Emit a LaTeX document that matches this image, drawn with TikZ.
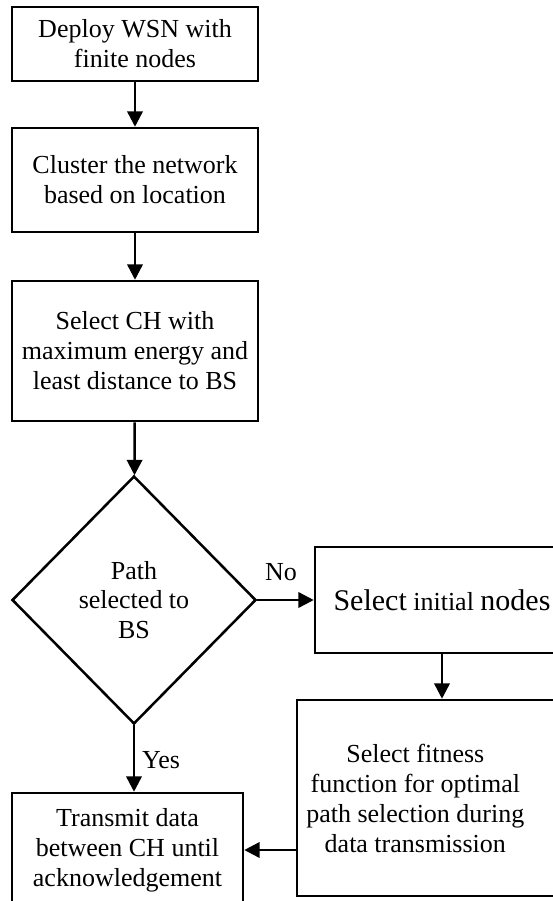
\documentclass[tikz,border=0pt]{standalone}
\usepackage{fontspec}
\setmainfont{Liberation Serif}
\usetikzlibrary{shapes.geometric,arrows.meta}
\newcommand{\bigtxt}{\fontsize{22.5}{24}\selectfont}
\begin{document}
\begin{tikzpicture}[x=0.75pt,y=-0.75pt,
  box/.style={draw,line width=1.9pt,rectangle,align=center,inner sep=2pt,font=\fontsize{19.5}{22.5}\selectfont},
  decision/.style={draw,line width=1.9pt,diamond,aspect=1,inner sep=0pt,minimum width=183pt,minimum height=186pt,align=center,font=\fontsize{19.5}{22}\selectfont},
  lbl/.style={font=\fontsize{19.5}{22.5}\selectfont},
  arr/.style={line width=1.9pt,-{Triangle[length=11.5pt,width=11.5pt]}}]
 \useasboundingbox (0,0) rectangle (553,901);
 \clip (0,0) rectangle (553,901);

 \node[box,minimum width=184.5pt,minimum height=55.5pt] at (135,44) (deploy) {Deploy WSN with\\finite nodes};
 \node[box,minimum width=184.5pt,minimum height=78pt] at (135,180) (cluster) {Cluster the network\\based on location};
 \node[box,minimum width=184.5pt,minimum height=105pt] at (135,351) (selch) {Select CH with\\maximum energy and\\least distance to BS};
 \node[decision] at (134,600) (path) {Path\\selected to\\BS};
 \node[box,minimum width=190.5pt,minimum height=79.5pt] at (442,600) (init) {{\bigtxt Select} initial {\bigtxt nodes}};
 \node[box,minimum width=217.5pt,minimum height=147pt,
   label={[lbl,align=center,xshift=-20pt]center:Select fitness\\function for optimal\\path selection during\\data transmission}] at (442,798) (fitness) {};
 \node[box,minimum width=173.25pt,minimum height=85.5pt] at (127.5,850) (trans) {Transmit data\\between CH until\\acknowledgement};
 \node[lbl] at (281,572) (no) {No};
 \node[lbl] at (161,760) (yes) {Yes};

 \draw[arr] (deploy) -- (cluster);
 \draw[arr] (cluster) -- (selch);
 \draw[arr] (selch) -- (path);
 \draw[arr] (path.east) -- (init.west);
 \draw[arr] (path.south) -- (path.south |- trans.north);
 \draw[arr] (init.south) -- (fitness.north);
 \draw[arr] (fitness.west |- trans.east) -- (trans.east);
\end{tikzpicture}
\end{document}
